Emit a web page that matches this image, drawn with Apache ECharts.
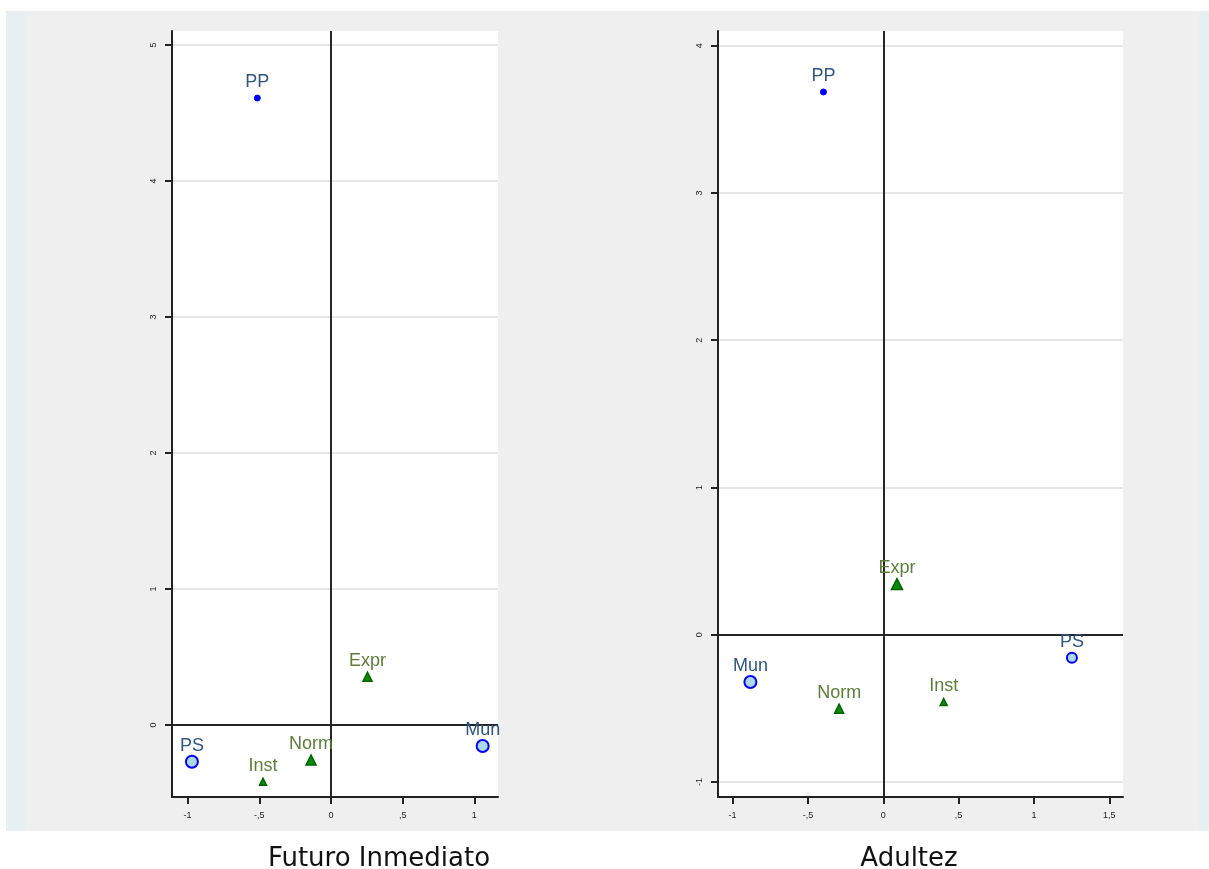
<!DOCTYPE html>
<html>
<head>
<meta charset="utf-8">
<title>Futuro Inmediato / Adultez</title>
<script src="https://cdn.jsdelivr.net/npm/echarts@6/dist/echarts.min.js"></script>
<style>
  html, body { margin: 0; padding: 0; background: #ffffff; }
  #chart { width: 1209px; height: 869px; }
</style>
</head>
<body>
<div id="chart"></div>
<script>
// Panel titles
const panelTitles = ['Futuro Inmediato', 'Adultez'];

// Futuro Inmediato: row points (circles) and column points (triangles)
const leftCircleNames = ['PP', 'PS', 'Mun'];
const leftCircleX = [-0.514, -0.970, 1.058];
const leftCircleY = [4.610, -0.270, -0.154];
const leftTriNames = ['Expr', 'Norm', 'Inst'];
const leftTriX = [0.255, -0.139, -0.474];
const leftTriY = [0.355, -0.257, -0.417];

// Adultez: row points (circles) and column points (triangles)
const rightCircleNames = ['PP', 'PS', 'Mun'];
const rightCircleX = [-0.397, 1.252, -0.882];
const rightCircleY = [3.686, -0.156, -0.321];
const rightTriNames = ['Expr', 'Norm', 'Inst'];
const rightTriX = [0.091, -0.293, 0.401];
const rightTriY = [0.344, -0.502, -0.457];

// Tick labels
const leftXTicks = [-1, -0.5, 0, 0.5, 1];
const leftYTicks = [0, 1, 2, 3, 4, 5];
const rightXTicks = [-1, -0.5, 0, 0.5, 1, 1.5];
const rightYTicks = [-1, 0, 1, 2, 3, 4];

// Axis ranges
const leftXRange = [-1.109, 1.165];
const leftYRange = [-0.529, 5.103];
const rightXRange = [-1.097, 1.591];
const rightYRange = [-1.102, 4.10];

// Marker sizes per panel (pixels)
const markerSize = {
  left:  { PP: 6, PS: 12, Mun: 12, Expr: 9, Norm: 10, Inst: 7 },
  right: { PP: 6, PS: 10, Mun: 12, Expr: 11, Norm: 9, Inst: 7 }
};

function fmt(v) {
  // Spanish decimal comma, no leading zero: -,5  ,5  1,5
  let s = String(v);
  s = s.replace(/^(-?)0\./, '$1.');
  return s.replace('.', ',');
}

function points(names, xs, ys, side) {
  return names.map((n, i) => ({
    name: n,
    value: [xs[i], ys[i]],
    symbolSize: markerSize[side][n]
  }));
}

const BLUE_TXT = '#2f5584';
const GREEN_TXT = '#5b7d38';
const LABEL_FONT = 'Liberation Sans, Arial, sans-serif';

function circleSeries(idx, data) {
  return {
    type: 'scatter',
    xAxisIndex: idx, yAxisIndex: idx,
    symbol: 'circle',
    data: data.map(d => Object.assign({}, d, d.symbolSize <= 6 ? {
      itemStyle: { color: '#0000ff', borderColor: '#0000ff', borderWidth: 1 }
    } : {})),
    itemStyle: { color: '#add8e6', borderColor: '#0000ff', borderWidth: 2, opacity: 1 },
    label: {
      show: true, position: 'inside', offset: [0, -16],
      formatter: p => p.name,
      color: BLUE_TXT, fontSize: 18, fontFamily: LABEL_FONT
    },
    emphasis: { disabled: true },
    z: 5,
    markLine: {
      silent: true, symbol: 'none', animation: false,
      label: { show: false },
      lineStyle: { color: '#262626', width: 2, type: 'solid' },
      data: [{ xAxis: 0 }, { yAxis: 0 }]
    }
  };
}

function triSeries(idx, data) {
  return {
    type: 'scatter',
    xAxisIndex: idx, yAxisIndex: idx,
    symbol: 'triangle',
    data: data,
    itemStyle: { color: '#0a8a0a', borderColor: '#006400', borderWidth: 1.5, opacity: 1 },
    label: {
      show: true, position: 'inside', offset: [0, -16],
      formatter: p => p.name,
      color: GREEN_TXT, fontSize: 18, fontFamily: LABEL_FONT
    },
    emphasis: { disabled: true },
    z: 5
  };
}

function xAxis(idx, range, ticks) {
  return {
    type: 'value', gridIndex: idx,
    min: range[0], max: range[1],
    position: 'bottom',
    axisLine: { show: true, onZero: false, lineStyle: { color: '#222', width: 2 } },
    axisTick: { show: true, length: 7, customValues: ticks, lineStyle: { color: '#222', width: 2 } },
    axisLabel: {
      customValues: ticks, formatter: fmt, margin: 14,
      fontSize: 9, color: '#222', fontFamily: LABEL_FONT
    },
    splitLine: { show: false }
  };
}

function yAxis(idx, range, ticks) {
  return {
    type: 'value', gridIndex: idx,
    min: range[0], max: range[1],
    position: 'left',
    axisLine: { show: true, onZero: false, lineStyle: { color: '#222', width: 2 } },
    axisTick: { show: true, length: 7, customValues: ticks, lineStyle: { color: '#222', width: 2 } },
    axisLabel: {
      customValues: ticks, formatter: fmt, margin: 14, rotate: 90,
      fontSize: 9, color: '#222', fontFamily: LABEL_FONT
    },
    splitLine: { show: true, lineStyle: { color: '#e6e6e6', width: 2 } }
  };
}

const chart = echarts.init(document.getElementById('chart'), null, { renderer: 'canvas' });

chart.setOption({
  animation: false,
  backgroundColor: '#ffffff',
  graphic: [
    { type: 'rect', z: -10, silent: true, shape: { x: 6, y: 11, width: 1203, height: 820 }, style: { fill: '#efefef' } },
    { type: 'rect', z: -9, silent: true, shape: { x: 6, y: 11, width: 19, height: 820 }, style: { fill: '#e6eff1' } },
    { type: 'rect', z: -9, silent: true, shape: { x: 1199, y: 11, width: 10, height: 820 }, style: { fill: '#e6eff1' } }
  ],
  title: [
    {
      text: panelTitles[0], left: 374, top: 841, textAlign: 'center',
      textStyle: { fontSize: 26, fontWeight: 'normal', color: '#111', fontFamily: 'DejaVu Sans, sans-serif' }
    },
    {
      text: panelTitles[1], left: 904, top: 841, textAlign: 'center',
      textStyle: { fontSize: 26, fontWeight: 'normal', color: '#111', fontFamily: 'DejaVu Sans, sans-serif' }
    }
  ],
  grid: [
    { left: 172, top: 31, width: 326, height: 766, show: true, backgroundColor: '#ffffff', borderWidth: 0 },
    { left: 718, top: 31, width: 405, height: 766, show: true, backgroundColor: '#ffffff', borderWidth: 0 }
  ],
  xAxis: [xAxis(0, leftXRange, leftXTicks), xAxis(1, rightXRange, rightXTicks)],
  yAxis: [yAxis(0, leftYRange, leftYTicks), yAxis(1, rightYRange, rightYTicks)],
  series: [
    circleSeries(0, points(leftCircleNames, leftCircleX, leftCircleY, 'left')),
    triSeries(0, points(leftTriNames, leftTriX, leftTriY, 'left')),
    circleSeries(1, points(rightCircleNames, rightCircleX, rightCircleY, 'right')),
    triSeries(1, points(rightTriNames, rightTriX, rightTriY, 'right'))
  ]
});
</script>
</body>
</html>
